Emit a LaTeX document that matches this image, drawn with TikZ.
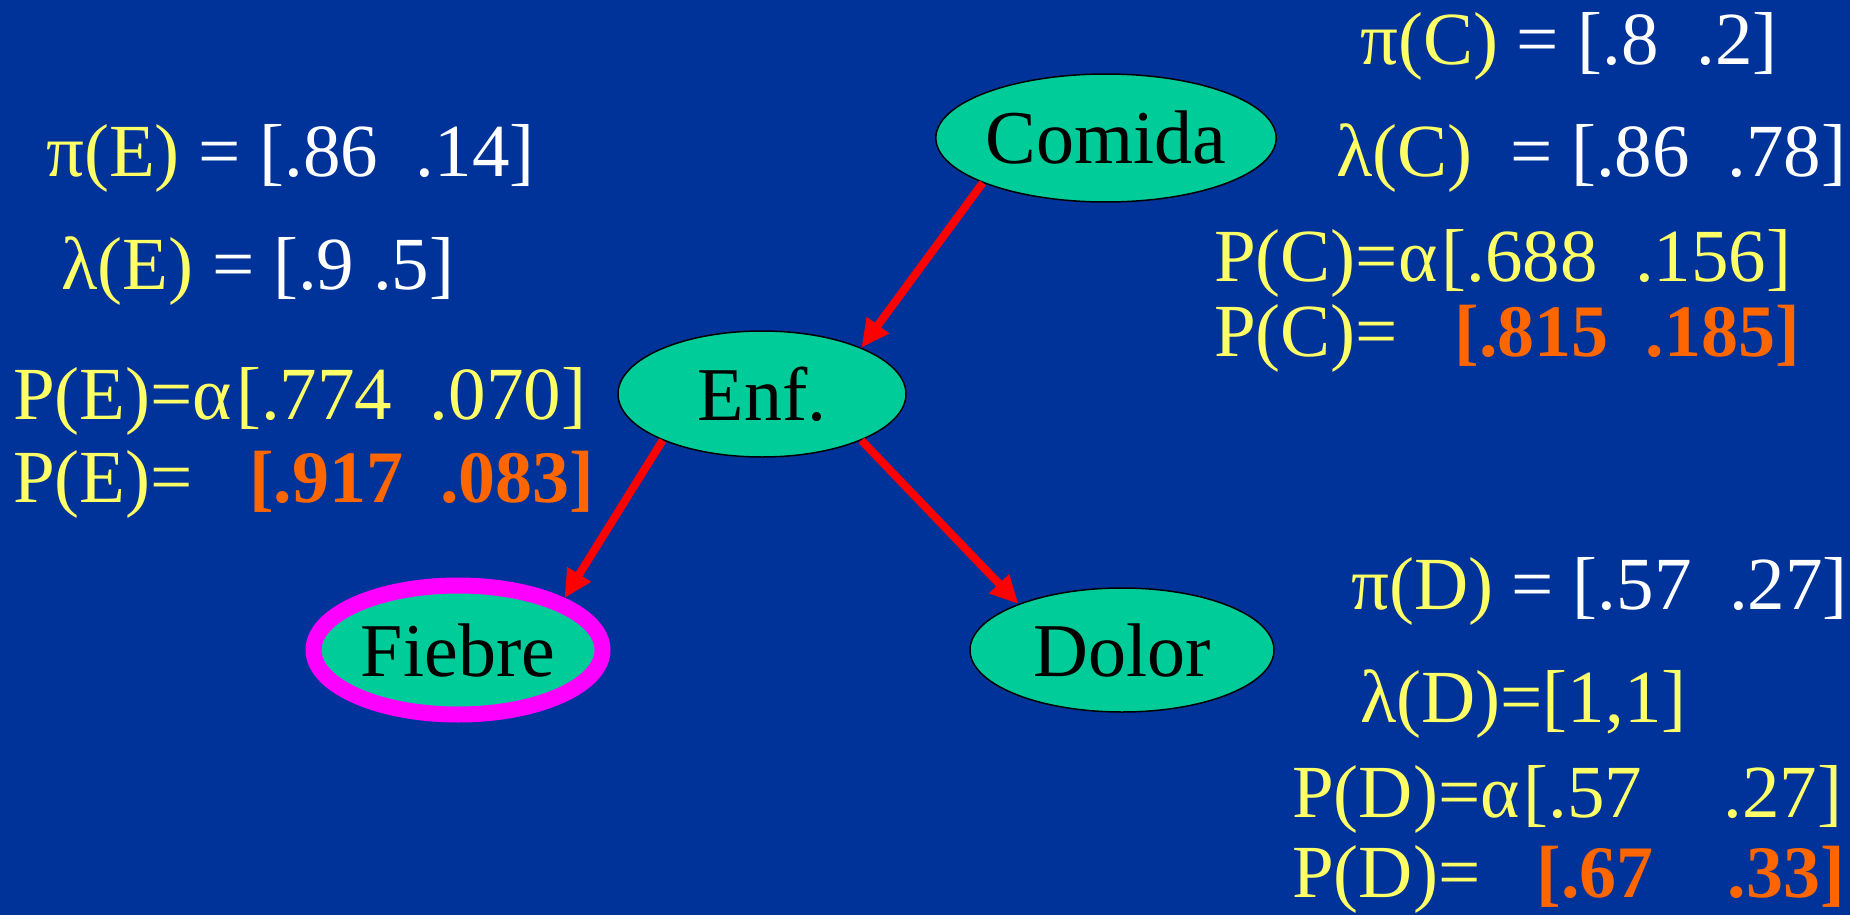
\documentclass[tikz,border=0pt]{standalone}
\usepackage{fontspec}
\setmainfont{Liberation Serif}
\usetikzlibrary{shapes.geometric,arrows.meta}
\definecolor{bgblue}{HTML}{003399}
\definecolor{yel}{HTML}{FFFF66}
\definecolor{org}{HTML}{FF6600}
\definecolor{teal}{HTML}{00CC99}
\definecolor{mag}{HTML}{FF00FF}
\definecolor{arrred}{HTML}{FF0000}
\newcommand{\W}[1]{\textcolor{white}{#1}}
\newcommand{\OB}[1]{\textcolor{org}{\fontsize{74}{74}\selectfont\bfseries #1}}
\newcommand{\alf}{α\kern4pt}
\tikzset{
  bn/.style={ellipse, fill=teal, draw=black, line width=1.5pt, inner sep=0pt,
    font=\fontsize{76}{76}\selectfont, text=black},
  lbl/.style={anchor=base west, inner sep=0pt, text=yel,
    font=\fontsize{75}{75}\selectfont},
  arr/.style={draw=arrred, line width=8pt, -{Triangle[length=28pt,width=26pt]}}
}
\begin{document}
\begin{tikzpicture}[x=1pt,y=-1pt]
\useasboundingbox (0,0) rectangle (1850,915);
\fill[bgblue] (0,0) rectangle (1850,915);
% nodes
\node[bn, minimum width=336pt, minimum height=128pt] (comida) at (1106,138) {Comida};
\node[bn, minimum width=288pt, minimum height=126pt] (enf) at (762,394) {Enf.};
\node[bn, draw=mag, line width=16pt, minimum width=289pt, minimum height=129pt] (fiebre) at (458,650) {Fiebre};
\node[bn, minimum width=304pt, minimum height=124pt] (dolor) at (1122,650) {Dolor};
% arrows
\draw[arr] (comida.200) -- (enf.25);
\draw[arr] (enf.205) -- (fiebre.26);
\draw[arr] (enf.335) -- (dolor.156);
% E labels
\node[lbl] (piE) at (46,176) {π(E) \W{= [.86\ \ .14]}};
\node[lbl] (laE) at (61,289) {λ(E) \W{= [.9 .5]}};
\node[lbl] (PEa) at (13,419) {P(E)=\alf[.774\ \ .070]};
\node[lbl] (PE) at (13,502) {P(E)=\ \ \ \OB{[.917\ \ .083]}};
% C labels
\node[lbl] (piC) at (1360,65) {π(C) \W{= [.8\ \ .2]}};
\node[lbl] (laC) at (1336,176) {λ(C)\ \ \W{= [.86\ \ .78]}};
\node[lbl] (PCa) at (1214,281) {P(C)=\alf[.688\ \ .156]};
\node[lbl] (PC) at (1214,356) {P(C)=\ \ \ \OB{[.815\ \ .185]}};
% D labels
\node[lbl] (piD) at (1351,609) {π(D) \W{= [.57\ \ .27]}};
\node[lbl] (laD) at (1360,722) {λ(D)=[1,1]};
\node[lbl] (PDa) at (1292,817) {P(D)=\alf[.57\ \ \ \ \hspace{6pt}.27]};
\node[lbl] (PD) at (1292,897) {P(D)=\ \ \ \OB{[.67\ \ \ \ .33]}};
\end{tikzpicture}
\end{document}
